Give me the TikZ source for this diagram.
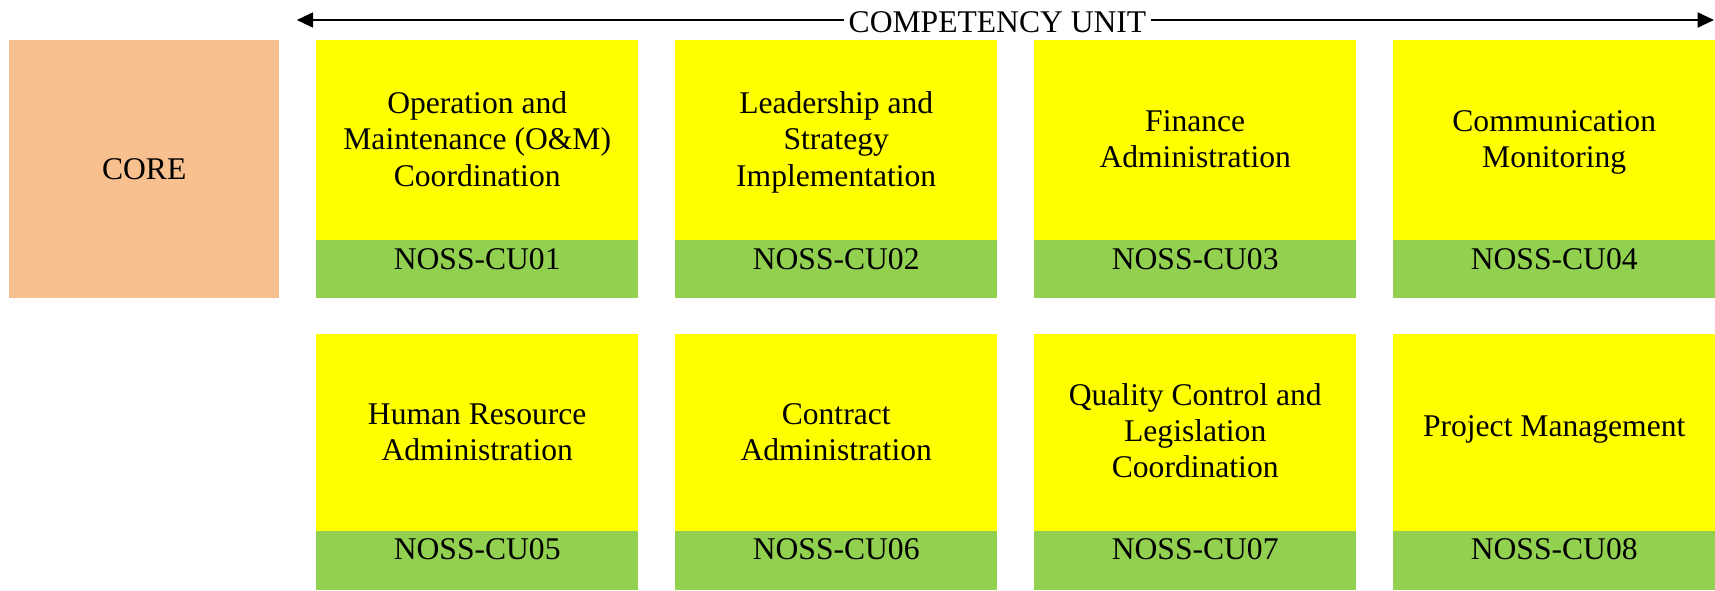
\documentclass[tikz,border=0pt]{standalone}
\usepackage{fontspec}
\setmainfont{Liberation Serif}
\usetikzlibrary{arrows.meta,calc}
\definecolor{coreorange}{HTML}{F8BF8F}
\definecolor{unityellow}{HTML}{FFFF00}
\definecolor{unitgreen}{HTML}{92D050}
\newcommand{\mytopstrut}{\rule{0pt}{22pt}}
\newcommand{\mybotstrut}{\rule[-7pt]{0pt}{7pt}}
\begin{document}
\begin{tikzpicture}[x=1pt,y=-1pt,
  font=\fontsize{31.6}{36.3}\selectfont,
  corebox/.style={fill=coreorange, minimum width=270pt, minimum height=258pt, inner sep=0pt, anchor=north west},
  unitbox/.style={fill=unityellow, minimum width=322pt, minimum height=#1, inner sep=0pt, anchor=north west},
  unittext/.style={inner sep=0pt, align=center,
    execute at begin node=\mytopstrut, execute at end node=\mybotstrut},
  codebox/.style n args={2}{fill=unitgreen, minimum width=322pt, inner sep=0pt, anchor=north west, text height=#1, text depth=#2},
  conn/.style={line width=2.2pt, -{Triangle[length=16.5pt,width=15pt]}}
]
\useasboundingbox (0,0) rectangle (1715,590);

% header arrow
\coordinate (al) at (296.7,20);
\coordinate (ar) at (1714,20);
\node[anchor=base, inner sep=5pt] (cu) at (997.5,32.3) {COMPETENCY UNIT};
\draw[conn] (al -| cu.west) -- (al);
\draw[conn] (al -| cu.east) -- (ar);

% core
\node[corebox] (core) at (9,40) {CORE};

% row 1
\node[unitbox=200pt] (u1) at (316,40) {};
\node[unittext] (t1) at ($(u1.center)+(0,2.3)$) {Operation and\\Maintenance (O\&M)\\Coordination};
\node[codebox={29pt}{29pt}] (c1) at (316,240) {NOSS-CU01};
\node[unitbox=200pt] (u2) at (675,40) {};
\node[unittext] (t2) at ($(u2.center)+(0,2.3)$) {Leadership and\\Strategy\\Implementation};
\node[codebox={29pt}{29pt}] (c2) at (675,240) {NOSS-CU02};
\node[unitbox=200pt] (u3) at (1034,40) {};
\node[unittext] (t3) at ($(u3.center)+(0,2.3)$) {Finance\\Administration};
\node[codebox={29pt}{29pt}] (c3) at (1034,240) {NOSS-CU03};
\node[unitbox=200pt] (u4) at (1393,40) {};
\node[unittext] (t4) at ($(u4.center)+(0,2.3)$) {Communication\\Monitoring};
\node[codebox={29pt}{29pt}] (c4) at (1393,240) {NOSS-CU04};

% row 2
\node[unitbox=197pt] (u5) at (316,334) {};
\node[unittext] (t5) at ($(u5.center)+(0,3)$) {Human Resource\\Administration};
\node[codebox={28.5pt}{30.5pt}] (c5) at (316,531) {NOSS-CU05};
\node[unitbox=197pt] (u6) at (675,334) {};
\node[unittext] (t6) at ($(u6.center)+(0,3)$) {Contract\\Administration};
\node[codebox={28.5pt}{30.5pt}] (c6) at (675,531) {NOSS-CU06};
\node[unitbox=197pt] (u7) at (1034,334) {};
\node[unittext] (t7) at ($(u7.center)+(0,1.5)$) {Quality Control and\\Legislation\\Coordination};
\node[codebox={28.5pt}{30.5pt}] (c7) at (1034,531) {NOSS-CU07};
\node[unitbox=197pt] (u8) at (1393,334) {};
\node[unittext] (t8) at ($(u8.center)+(0,-3.3)$) {Project Management};
\node[codebox={28.5pt}{30.5pt}] (c8) at (1393,531) {NOSS-CU08};
\end{tikzpicture}
\end{document}
